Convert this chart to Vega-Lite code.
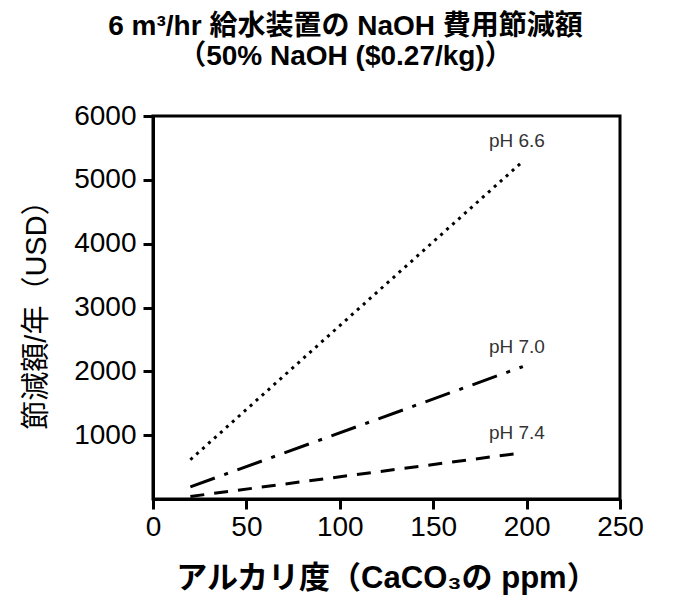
{
  "$schema": "https://vega.github.io/schema/vega-lite/v6.json",
  "width": 467,
  "height": 383,
  "autosize": {"type": "none"},
  "padding": {"left": 153, "top": 116, "right": 70, "bottom": 112},
  "background": "white",
  "title": {
    "text": ["6 m³/hr 給水装置の NaOH 費用節減額", "（50% NaOH ($0.27/kg)）"],
    "font": "Liberation Sans, Noto Sans CJK JP",
    "fontSize": 28,
    "fontWeight": "bold",
    "color": "black",
    "anchor": "middle",
    "frame": "group",
    "dx": -41,
    "offset": 31,
    "lineHeight": 30
  },
  "config": {
    "view": {"stroke": "black", "strokeWidth": 3},
    "axis": {
      "domainColor": "black",
      "domainWidth": 3,
      "tickColor": "black",
      "tickWidth": 3,
      "tickSize": 10,
      "grid": false,
      "labelFont": "Liberation Sans",
      "labelFontSize": 28,
      "labelColor": "black",
      "titleColor": "black",
      "titleFont": "Liberation Sans, Noto Sans CJK JP"
    }
  },
  "data": {
    "values": [
      {"ph": "pH 6.6", "alk": 20, "savings": 615},
      {"ph": "pH 6.6", "alk": 198, "savings": 5290},
      {"ph": "pH 7.0", "alk": 20, "savings": 190},
      {"ph": "pH 7.0", "alk": 198, "savings": 2075},
      {"ph": "pH 7.4", "alk": 20, "savings": 40},
      {"ph": "pH 7.4", "alk": 198, "savings": 725}
    ]
  },
  "encoding": {
    "x": {
      "field": "alk",
      "type": "quantitative",
      "scale": {"domain": [0, 250], "nice": false},
      "axis": {
        "values": [0, 50, 100, 150, 200, 250],
        "title": "アルカリ度（CaCO₃の ppm）",
        "titleFontSize": 31,
        "titleFontWeight": "bold",
        "titlePadding": 22,
        "labelPadding": 4,
        "labelFlush": false
      }
    },
    "y": {
      "field": "savings",
      "type": "quantitative",
      "scale": {"domain": [0, 6000], "nice": false},
      "axis": {
        "values": [1000, 2000, 3000, 4000, 5000, 6000],
        "format": "d",
        "title": "節減額/年（USD）",
        "titleFontSize": 29,
        "titleFontWeight": "normal",
        "titlePadding": 22,
        "labelPadding": 7,
        "labelFlush": false
      }
    }
  },
  "layer": [
    {
      "mark": {"type": "line", "color": "black", "strokeWidth": 3},
      "encoding": {
        "strokeDash": {
          "field": "ph",
          "type": "nominal",
          "scale": {
            "domain": ["pH 6.6", "pH 7.0", "pH 7.4"],
            "range": [[3, 5], [26, 10, 4, 10], [14, 10]]
          },
          "legend": null
        }
      }
    },
    {
      "transform": [{"filter": "datum.alk == 198"}],
      "mark": {
        "type": "text",
        "font": "Liberation Sans",
        "fontSize": 19,
        "color": "#333333",
        "align": "center",
        "baseline": "alphabetic",
        "dx": -6,
        "dy": -14
      },
      "encoding": {"text": {"field": "ph", "type": "nominal"}}
    }
  ]
}
